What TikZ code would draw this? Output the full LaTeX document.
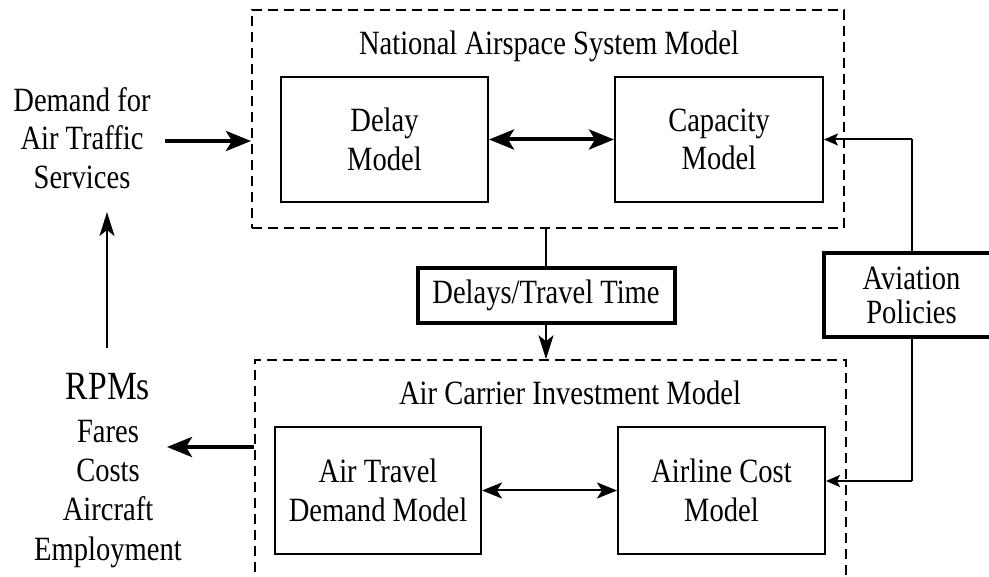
\documentclass[tikz,border=0pt]{standalone}
\usepackage{fontspec}
\setmainfont{Liberation Serif}[FakeStretch=0.84]
\usetikzlibrary{arrows.meta}
\begin{document}
\begin{tikzpicture}[x=1pt,y=-1pt,
  txt/.style={inner sep=0pt, align=center, font=\fontsize{34}{38.5}\selectfont},
  modelbox/.style={draw, line width=2pt, align=center, inner sep=0pt,
     font=\fontsize{34}{38.5}\selectfont},
  heavybox/.style={draw, line width=4pt, align=center, inner sep=0pt,
     font=\fontsize{34}{34}\selectfont},
  dashbox/.style={draw, dash pattern=on 10pt off 6pt, inner sep=0pt},
  conn/.style={line width=2pt},
  thinarrow/.style={line width=2pt, -{Stealth[length=14pt, width=12pt, inset=3pt]}},
  medarrow/.style={line width=2.5pt, -{Stealth[length=24pt, width=15pt, inset=6pt]}},
  thickarrow/.style={line width=4pt, -{Stealth[length=25pt, width=20pt, inset=6pt]}},
  thickboth/.style={line width=4pt, {Stealth[length=25pt, width=20pt, inset=6pt]}-{Stealth[length=25pt, width=20pt, inset=6pt]}},
  medboth/.style={line width=2pt, {Stealth[length=20pt, width=16pt, inset=5pt]}-{Stealth[length=20pt, width=16pt, inset=5pt]}}
]
\useasboundingbox (0,0) rectangle (989,577);

% dashed model groups
\node[dashbox, line width=2pt, minimum width=592pt, minimum height=218pt] (nas) at (548,119) {};
\node[dashbox, line width=1.5pt, minimum width=591pt, minimum height=280pt] (acim) at (550.5,500) {};

% titles
\node[txt, anchor=base] (nastitle) at (549,55) {National Airspace System Model};
\node[txt, anchor=base] (acimtitle) at (570,405) {Air Carrier Investment Model};

% inner models
\node[modelbox, minimum width=207pt, minimum height=125pt] (delay) at (384.5,139.5) {Delay\\Model};
\node[modelbox, minimum width=208pt, minimum height=125pt] (cap) at (719,139.5) {Capacity\\Model};
\node[modelbox, minimum width=206pt, minimum height=127pt] (atd) at (378,490.5) {Air Travel\\Demand Model};
\node[modelbox, minimum width=207pt, minimum height=127pt] (alc) at (721.5,490.5) {Airline Cost\\Model};

% intermediate boxes
\node[heavybox, minimum width=257pt, minimum height=55pt] (dtt) at (546,295.5) {Delays/Travel Time};
\node[heavybox, minimum width=176pt, minimum height=84pt] (av) at (911.5,295) {Aviation\\Policies};

% left texts
\node[txt] (dem) at (82,138) {Demand for\\Air Traffic\\Services};
\node[txt, anchor=base, font=\fontsize{40}{40}\selectfont] (rpm) at (108,400) {RPMs};
\node[txt, anchor=base] (fares) at (108,443) {Fares};
\node[txt, anchor=base] (costs) at (108,482) {Costs};
\node[txt, anchor=base] (acft) at (108,521) {Aircraft};
\node[txt, anchor=base] (empl) at (108,560) {Employment};

% connectors
\draw[thickboth] (delay.east) -- (cap.west);
\draw[medboth] (atd.east) -- (alc.west);
\draw[conn] (dtt.north |- nas.south) -- (dtt.north);
\draw[medarrow] (dtt.south) -- (dtt.south |- acim.north);
\draw[conn] (av.north) -- (av.north |- cap.east);
\draw[thinarrow] (av.north |- cap.east) -- (cap.east);
\coordinate (alcin) at (911.5,481);
\draw[conn] (av.south) -- (alcin);
\draw[thinarrow] (alcin) -- (alcin -| alc.east);

\coordinate (demout) at (165,141);
\draw[thickarrow] (demout) -- (demout -| nas.west);
\coordinate (upfrom) at (107,348);
\coordinate (upto) at (107,212);
\draw[medarrow] (upfrom) -- (upto);
\coordinate (rpmin) at (167,447);
\draw[thickarrow] (rpmin -| acim.west) -- (rpmin);
\end{tikzpicture}
\end{document}
